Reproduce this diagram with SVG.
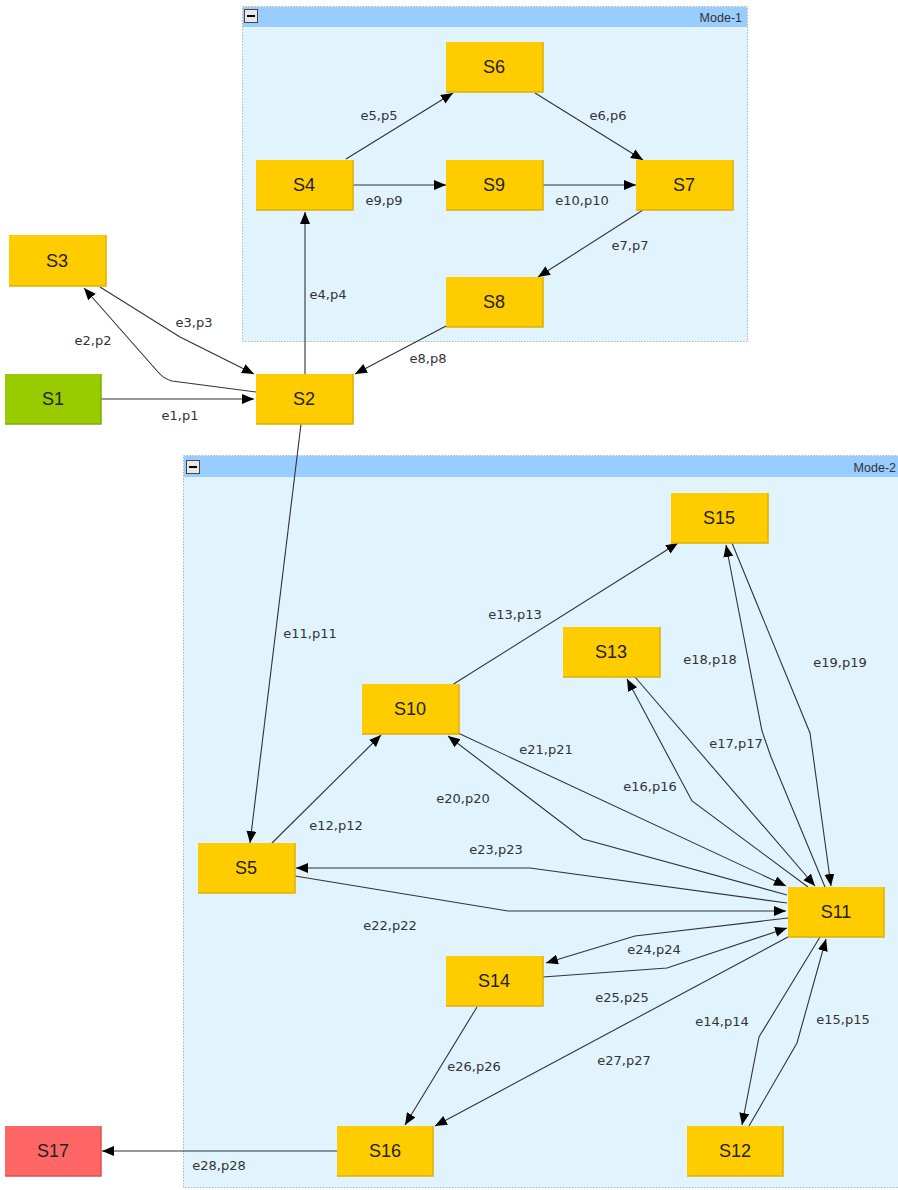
<svg xmlns="http://www.w3.org/2000/svg" width="898" height="1190" viewBox="0 0 898 1190">
<style>
.grp{fill:#e1f3fd;stroke:#a8b4bc;stroke-width:1;stroke-dasharray:1.5,1.5}
.hdr{fill:#99ccff}
.btn{fill:#e8e8e8;stroke:#444;stroke-width:1}
.gt{font-family:"Liberation Sans",Arial,sans-serif;font-size:12.5px;fill:#333;text-anchor:end}
.nd{fill:#ffcc00}
.sh{fill:none;stroke:#dcb000;stroke-width:1.5}
.nt{font-family:"Liberation Sans",Arial,sans-serif;font-size:18px;fill:#222;text-anchor:middle;dominant-baseline:central}
.e{fill:none;stroke:#333;stroke-width:1.1}
.lb{font-family:"DejaVu Sans",Verdana,sans-serif;font-size:13px;fill:#333;text-anchor:middle;dominant-baseline:central}
</style>
<defs>
<marker id="ar" markerUnits="userSpaceOnUse" markerWidth="13" markerHeight="11" refX="12" refY="5" orient="auto">
<path d="M0,0 L12,5 L0,10 z" fill="#000"/>
</marker>
</defs>
<rect width="898" height="1190" fill="#fff"/>

<g id="mode1">
<rect class="grp" x="242.5" y="6.5" width="505" height="335"/>
<rect class="hdr" x="243" y="7" width="504" height="20"/>
<rect class="btn" x="244.5" y="9.5" width="13" height="13"/>
<line x1="247" y1="16" x2="255" y2="16" stroke="#000" stroke-width="2"/>
<text class="gt" x="742" y="22">Mode-1</text>
</g>

<g id="mode2">
<rect class="grp" x="183.5" y="455.5" width="720" height="732"/>
<rect class="hdr" x="184" y="456" width="714" height="21"/>
<rect class="btn" x="186.5" y="460.5" width="13" height="13"/>
<line x1="189" y1="467" x2="197" y2="467" stroke="#000" stroke-width="2"/>
<text class="gt" x="896" y="472">Mode-2</text>
</g>

<g id="connectors">
<polyline class="e" points="101,399 254,399" marker-end="url(#ar)"/>
<path class="e" d="M256,392 L172,381 Q164,379 158,372 L84,288" marker-end="url(#ar)"/>
<polyline class="e" points="100,287 180,337 254,374" marker-end="url(#ar)"/>
<polyline class="e" points="305,374 305,212" marker-end="url(#ar)"/>
<polyline class="e" points="346,159 453,93" marker-end="url(#ar)"/>
<polyline class="e" points="535,93 643,160" marker-end="url(#ar)"/>
<polyline class="e" points="353,185 446,185" marker-end="url(#ar)"/>
<polyline class="e" points="543,185 636,185" marker-end="url(#ar)"/>
<polyline class="e" points="643,210 538,277" marker-end="url(#ar)"/>
<polyline class="e" points="446,326 355,374" marker-end="url(#ar)"/>
<polyline class="e" points="301,424 250,843" marker-end="url(#ar)"/>
<polyline class="e" points="272,843 381,735" marker-end="url(#ar)"/>
<polyline class="e" points="452,685 678,543" marker-end="url(#ar)"/>
<polyline class="e" points="825,887 771,757 762,731 726,545" marker-end="url(#ar)"/>
<polyline class="e" points="732,543 810,733 831,886" marker-end="url(#ar)"/>
<polyline class="e" points="635,677 815,886" marker-end="url(#ar)"/>
<polyline class="e" points="808,887 692,801 627,679" marker-end="url(#ar)"/>
<polyline class="e" points="458,733 786,886" marker-end="url(#ar)"/>
<polyline class="e" points="787,895 583,839 448,736" marker-end="url(#ar)"/>
<polyline class="e" points="787,903 530,868 296,868" marker-end="url(#ar)"/>
<polyline class="e" points="295,876 508,911 786,911" marker-end="url(#ar)"/>
<polyline class="e" points="788,918 635,936 546,963" marker-end="url(#ar)"/>
<polyline class="e" points="543,977 667,968 787,928" marker-end="url(#ar)"/>
<polyline class="e" points="788,937 435,1126" marker-end="url(#ar)"/>
<polyline class="e" points="477,1007 405,1125" marker-end="url(#ar)"/>
<polyline class="e" points="820,937 759,1037 742,1125" marker-end="url(#ar)"/>
<polyline class="e" points="749,1126 797,1043 826,939" marker-end="url(#ar)"/>
<polyline class="e" points="338,1151 102,1151" marker-end="url(#ar)"/>

<text class="lb" x="180" y="415">e1,p1</text>
<text class="lb" x="93" y="340">e2,p2</text>
<text class="lb" x="194" y="322">e3,p3</text>
<text class="lb" x="328" y="294">e4,p4</text>
<text class="lb" x="379" y="115">e5,p5</text>
<text class="lb" x="608" y="115">e6,p6</text>
<text class="lb" x="384" y="200">e9,p9</text>
<text class="lb" x="582" y="200">e10,p10</text>
<text class="lb" x="630" y="245">e7,p7</text>
<text class="lb" x="428" y="358">e8,p8</text>
<text class="lb" x="310" y="633">e11,p11</text>
<text class="lb" x="336" y="825">e12,p12</text>
<text class="lb" x="515" y="614">e13,p13</text>
<text class="lb" x="710" y="659">e18,p18</text>
<text class="lb" x="840" y="662">e19,p19</text>
<text class="lb" x="736" y="743">e17,p17</text>
<text class="lb" x="650" y="786">e16,p16</text>
<text class="lb" x="546" y="749">e21,p21</text>
<text class="lb" x="463" y="798">e20,p20</text>
<text class="lb" x="496" y="849">e23,p23</text>
<text class="lb" x="390" y="925">e22,p22</text>
<text class="lb" x="654" y="949">e24,p24</text>
<text class="lb" x="622" y="997">e25,p25</text>
<text class="lb" x="624" y="1060">e27,p27</text>
<text class="lb" x="474" y="1066">e26,p26</text>
<text class="lb" x="722" y="1021">e14,p14</text>
<text class="lb" x="843" y="1019">e15,p15</text>
<text class="lb" x="219" y="1165">e28,p28</text>
</g>

<g id="S1"><rect x="5" y="374" width="96" height="50" fill="#99cc00"/><path d="M101,374 V424 H5" fill="none" stroke="#7fae00" stroke-width="1.5"/><text class="nt" x="53" y="399">S1</text></g>
<g id="S2"><rect class="nd" x="256" y="374" width="97" height="50"/><path class="sh" d="M353,374 V424 H256"/><text class="nt" x="304" y="399">S2</text></g>
<g id="S3"><rect class="nd" x="9" y="235" width="97" height="51"/><path class="sh" d="M106,235 V286 H9"/><text class="nt" x="57" y="261">S3</text></g>
<g id="S4"><rect class="nd" x="256" y="160" width="97" height="50"/><path class="sh" d="M353,160 V210 H256"/><text class="nt" x="304" y="185">S4</text></g>
<g id="S6"><rect class="nd" x="446" y="42" width="97" height="50"/><path class="sh" d="M543,42 V92 H446"/><text class="nt" x="494" y="67">S6</text></g>
<g id="S9"><rect class="nd" x="446" y="160" width="97" height="50"/><path class="sh" d="M543,160 V210 H446"/><text class="nt" x="494" y="185">S9</text></g>
<g id="S7"><rect class="nd" x="636" y="160" width="97" height="50"/><path class="sh" d="M733,160 V210 H636"/><text class="nt" x="684" y="185">S7</text></g>
<g id="S8"><rect class="nd" x="446" y="277" width="97" height="50"/><path class="sh" d="M543,277 V327 H446"/><text class="nt" x="494" y="302">S8</text></g>
<g id="S15"><rect class="nd" x="671" y="493" width="97" height="50"/><path class="sh" d="M768,493 V543 H671"/><text class="nt" x="719" y="518">S15</text></g>
<g id="S13"><rect class="nd" x="563" y="627" width="97" height="50"/><path class="sh" d="M660,627 V677 H563"/><text class="nt" x="611" y="652">S13</text></g>
<g id="S10"><rect class="nd" x="362" y="684" width="97" height="50"/><path class="sh" d="M459,684 V734 H362"/><text class="nt" x="410" y="709">S10</text></g>
<g id="S5"><rect class="nd" x="198" y="843" width="97" height="50"/><path class="sh" d="M295,843 V893 H198"/><text class="nt" x="246" y="868">S5</text></g>
<g id="S11"><rect class="nd" x="788" y="887" width="96" height="50"/><path class="sh" d="M884,887 V937 H788"/><text class="nt" x="836" y="912">S11</text></g>
<g id="S14"><rect class="nd" x="446" y="956" width="97" height="50"/><path class="sh" d="M543,956 V1006 H446"/><text class="nt" x="494" y="981">S14</text></g>
<g id="S16"><rect class="nd" x="337" y="1126" width="96" height="50"/><path class="sh" d="M433,1126 V1176 H337"/><text class="nt" x="385" y="1151">S16</text></g>
<g id="S12"><rect class="nd" x="687" y="1126" width="96" height="50"/><path class="sh" d="M783,1126 V1176 H687"/><text class="nt" x="735" y="1151">S12</text></g>
<g id="S17"><rect x="5" y="1126" width="96" height="50" fill="#ff6666"/><path d="M101,1126 V1176 H5" fill="none" stroke="#e05050" stroke-width="1.5"/><text class="nt" x="53" y="1151">S17</text></g>
</svg>
